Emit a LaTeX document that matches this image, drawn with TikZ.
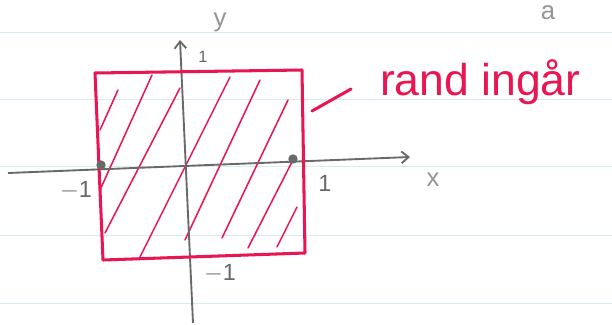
\documentclass[tikz,border=0pt]{standalone}
\usepackage{fontspec}
\setmainfont{Liberation Sans}
\usepackage{xcolor}
\usetikzlibrary{positioning,arrows.meta}
\definecolor{pencil}{RGB}{105,105,105}
\definecolor{lightpencil}{RGB}{150,150,150}
\definecolor{penred}{RGB}{232,22,82}
\definecolor{paperline}{RGB}{215,235,240}

\begin{document}
\begin{tikzpicture}[
        x=0.03cm, y=-0.03cm,
        axis/.style={pencil, line width=1.6pt, -{Straight Barb[length=6pt,width=10pt]}},
        rim/.style={penred, line width=2.6pt, line join=round, line cap=round},
        hatch/.style={penred, line width=1.3pt, line cap=round},
        ruling/.style={paperline, line width=0.6pt},
        dot/.style={circle, fill=pencil, inner sep=0pt, minimum size=8pt},
        lbl/.style={pencil, font=\fontsize{20}{22}\selectfont},
        faint/.style={lightpencil, font=\fontsize{22}{24}\selectfont}
    ]
        \clip (0,0) rectangle (612,324);
        \fill[white] (0,0) rectangle (612,324);

        % linjerat papper
        \foreach \yy in {32,99,166,235,303}
            \draw[ruling] (0,\yy) -- (612,\yy);

        % rektangelns hörn
        \coordinate (tl) at (95,73);
        \coordinate (tr) at (302,70);
        \coordinate (br) at (305,253);
        \coordinate (bl) at (103,260);

        % skraffering
        \foreach \ax/\ay/\bx/\by in {100/130/118/90, 100/190/152/75, 105/233/180/88,
                140/257/230/77, 185/240/260/80, 222/238/288/100, 248/248/293/160, 277/247/297/207}
            \draw[hatch] (\ax,\ay) -- (\bx,\by);

        % axlar
        \coordinate (xstart) at (8,173);
        \coordinate (xend) at (410,157);
        \coordinate (ystart) at (193,323);
        \coordinate (yend) at (180,40);
        \draw[axis] (xstart) -- (xend);
        \draw[axis] (ystart) -- (yend);

        % randen
        \draw[rim] (tl) -- (tr) -- (br) -- (bl) -- cycle;

        % punkter på x-axeln
        \node[dot] (pminus) at (101,165) {};
        \node[dot] (pplus) at (293,159) {};

        % etiketter
        \node[lbl] (xm) at (76,190) {$-$1};
        \node[lbl] (xp) at (325,183) {1};
        \node[faint] (xlab) at (433,180) {x};
        \node[faint] (ylab) at (220,22) {y};
        \node[lbl, font=\fontsize{14}{16}\selectfont] (yp) at (203,57) {1};
        \node[lbl] (ym) at (220,273) {$-$1};
        \node[faint] (alab) at (548,13) {a};

        % kommentar
        \node[penred, anchor=west, font=\fontsize{38}{42}\selectfont] (rand) at (376,82) {rand ingår};
        \coordinate (tail) at (312,111);
        \coordinate (dashend) at (351,89);
        \draw[rim] (tail) -- (dashend);
    \end{tikzpicture}
\end{document}
